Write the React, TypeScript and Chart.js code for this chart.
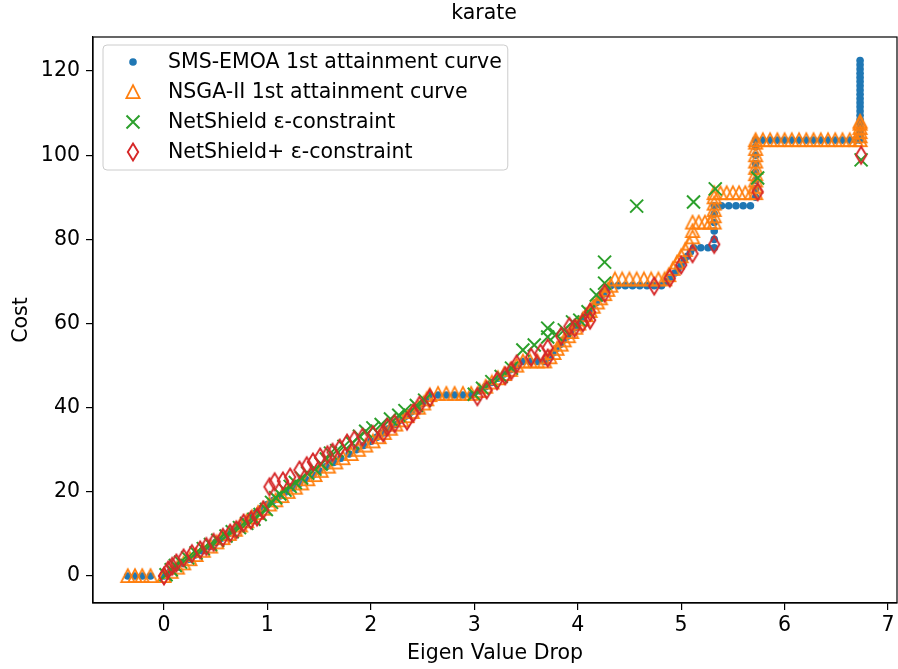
import React, { useEffect, useRef } from 'react';
import { Chart, registerables } from 'chart.js';

Chart.register(...registerables);

const FONT = "'DejaVu Sans', sans-serif";
const FS = 20.5;

const TITLE = 'karate';
const X_LABEL = 'Eigen Value Drop';
const Y_LABEL = 'Cost';
const X_TICKS = [0, 1, 2, 3, 4, 5, 6, 7];
const Y_TICKS = [0, 20, 40, 60, 80, 100, 120];
const SERIES_NAMES = [
  'SMS-EMOA 1st attainment curve',
  'NSGA-II 1st attainment curve',
  'NetShield ε-constraint',
  'NetShield+ ε-constraint',
];

const smsDrop = [
  -0.35, -0.28, -0.21, -0.13, 0.0,
  0.06, 0.12, 0.18, 0.24, 0.3, 0.37, 0.44, 0.5, 0.56, 0.62, 0.67, 0.72, 0.78, 0.83, 0.89, 0.94,
  1.0, 1.06, 1.12, 1.18, 1.25, 1.31, 1.37, 1.44, 1.5, 1.57, 1.64, 1.71, 1.79, 1.86, 1.93,
  2.0, 2.06, 2.12, 2.17, 2.23, 2.28, 2.34, 2.39, 2.45, 2.5, 2.53, 2.57,
  2.65, 2.73, 2.81, 2.89, 2.97,
  3.05, 3.11, 3.17, 3.23, 3.29, 3.35, 3.41, 3.47,
  3.54, 3.61, 3.68,
  3.72, 3.76, 3.79, 3.83, 3.86, 3.9, 3.93, 3.97, 4.0, 4.04, 4.07, 4.11, 4.14, 4.18, 4.21, 4.25, 4.28, 4.32,
  4.39, 4.46, 4.53, 4.6, 4.67, 4.74, 4.81,
  4.86, 4.9, 4.94, 4.97, 5.0, 5.03, 5.06, 5.09, 5.12,
  5.19, 5.26,
  5.32, 5.32, 5.32, 5.32, 5.32, 5.32,
  5.39, 5.46, 5.53, 5.6, 5.67,
  5.72, 5.72, 5.72, 5.72, 5.72, 5.72, 5.72, 5.72,
  5.79, 5.86, 5.93, 6.0, 6.07, 6.14, 6.21, 6.28, 6.35, 6.42, 6.49, 6.56, 6.63, 6.69,
  6.73, 6.73, 6.73, 6.73, 6.73, 6.73, 6.73, 6.73, 6.73, 6.73,
  6.73, 6.73, 6.73, 6.73, 6.73, 6.73, 6.73, 6.73, 6.73, 6.73,
];
const smsCost = [
  0, 0, 0, 0, 0,
  1, 2, 3, 4, 5, 6, 7, 8, 9, 10, 11, 12, 13, 14, 15, 16,
  17, 18, 19, 20, 21, 22, 23, 24, 25, 26, 27, 28, 29, 30, 31,
  32, 33, 34, 35, 36, 37, 38, 39, 40, 41, 42, 43,
  43, 43, 43, 43, 43,
  44, 45, 46, 47, 48, 49, 50, 51,
  51, 51, 51,
  52, 53, 54, 55, 56, 57, 58, 59, 60, 61, 62, 63, 64, 65, 66, 67, 68, 69,
  69, 69, 69, 69, 69, 69, 69,
  70, 71, 72, 73, 74, 75, 76, 77, 78,
  78, 78,
  78, 80, 82, 84, 86, 88,
  88, 88, 88, 88, 88,
  90, 92, 94, 96, 98, 100, 102, 103.6,
  103.6, 103.6, 103.6, 103.6, 103.6, 103.6, 103.6, 103.6, 103.6, 103.6, 103.6, 103.6, 103.6, 103.6,
  103.6, 104.5, 105.5, 106.5, 107.5, 108.5, 109.5, 110.5, 111.5, 112.5,
  113.5, 114.5, 115.5, 116.5, 117.5, 118.5, 119.5, 120.5, 121.5, 122.5,
];

const nsgaDrop = [
  -0.35, -0.28, -0.21, -0.13, 0.0,
  0.07, 0.13, 0.19, 0.25, 0.31, 0.38, 0.45, 0.51, 0.57, 0.63, 0.69, 0.74, 0.8, 0.85, 0.91, 0.96,
  1.02, 1.08, 1.14, 1.2, 1.27, 1.33, 1.39, 1.46, 1.52, 1.59, 1.66, 1.73, 1.81, 1.88, 1.95,
  2.02, 2.08, 2.13, 2.19, 2.24, 2.3, 2.35, 2.4, 2.46, 2.51, 2.54, 2.57,
  2.65, 2.73, 2.81, 2.89, 2.97,
  3.05, 3.11, 3.17, 3.23, 3.29, 3.35, 3.41, 3.47,
  3.54, 3.61, 3.68,
  3.73, 3.77, 3.8, 3.84, 3.87, 3.91, 3.94, 3.98, 4.01, 4.05, 4.08, 4.12, 4.15, 4.19, 4.22, 4.26, 4.29, 4.32,
  4.36, 4.43, 4.5, 4.57, 4.64, 4.71, 4.78, 4.84,
  4.88, 4.92, 4.96, 5.0, 5.04, 5.08, 5.11, 5.11, 5.11,
  5.17, 5.23, 5.28,
  5.32, 5.32, 5.32, 5.32, 5.32, 5.32,
  5.38, 5.44, 5.5, 5.56, 5.62, 5.68,
  5.72, 5.72, 5.72, 5.72, 5.72, 5.72, 5.72, 5.72, 5.72, 5.72,
  5.79, 5.86, 5.93, 6.0, 6.07, 6.14, 6.21, 6.28, 6.35, 6.42, 6.49, 6.56, 6.63, 6.69,
  6.73, 6.73, 6.73, 6.73, 6.73, 6.73,
];
const nsgaCost = [
  0, 0, 0, 0, 0,
  1, 2, 3, 4, 5, 6, 7, 8, 9, 10, 11, 12, 13, 14, 15, 16,
  17, 18, 19, 20, 21, 22, 23, 24, 25, 26, 27, 28, 29, 30, 31,
  32, 33, 34, 35, 36, 37, 38, 39, 40, 41, 42, 43,
  43.3, 43.3, 43.3, 43.3, 43.3,
  44, 45, 46, 47, 48, 49, 50, 51,
  51, 51, 51,
  52, 53, 54, 55, 56, 57, 58, 59, 60, 61, 62, 63, 64, 65, 66, 67, 68, 69,
  70.5, 70.5, 70.5, 70.5, 70.5, 70.5, 70.5, 70.5,
  71.5, 73, 74.5, 76, 77.5, 79, 80.5, 82, 84,
  84, 84, 84,
  84, 85.5, 87, 88.5, 90, 91,
  91, 91, 91, 91, 91, 91,
  91, 92.5, 94, 95.5, 97, 98.5, 100, 101.5, 103, 103.6,
  103.6, 103.6, 103.6, 103.6, 103.6, 103.6, 103.6, 103.6, 103.6, 103.6, 103.6, 103.6, 103.6, 103.6,
  103.6, 104.5, 105.5, 106.5, 107.5, 108,
];

const netDrop = [
  0.02, 0.07, 0.11, 0.16, 0.23, 0.31, 0.38, 0.45, 0.52, 0.6, 0.66, 0.73, 0.8, 0.87, 0.93, 0.99,
  1.04, 1.08, 1.12, 1.17, 1.22, 1.27, 1.33, 1.39, 1.46, 1.52, 1.57, 1.61, 1.67, 1.74, 1.82, 1.89, 1.95,
  2.02, 2.1, 2.19, 2.27, 2.33, 2.44, 2.52,
  3.0, 3.08, 3.17, 3.26, 3.36, 3.47, 3.58, 3.71, 3.71, 3.79, 3.87, 3.95,
  4.02, 4.1, 4.18, 4.26, 4.26, 4.57, 5.12, 5.33, 5.74, 6.74,
];
const netCost = [
  0.3, 1.5, 2.5, 3.3, 4.3, 5.5, 6.5, 7.5, 8.5, 9.5, 10.5, 11.5, 12.5, 13.5, 14.6, 15.8,
  17.5, 18.6, 19.5, 20.4, 21.3, 22.2, 23.3, 24.4, 25.4, 26.6, 27.8, 29.2, 29.8, 30.8, 31.6, 33.2, 34.4,
  35.2, 36, 37.3, 38.2, 39.3, 40.5, 41.8,
  43.2, 44.6, 46.2, 47.4, 49.4, 53.7, 54.9, 56.8, 58.9, 57.4, 58.5, 60.4,
  60.8, 62.8, 66.8, 69.6, 74.6, 87.9, 88.9, 92, 94.6, 98.9,
];

const netPlusDrop = [
  0.0, 0.04, 0.08, 0.12, 0.19, 0.27, 0.35, 0.41, 0.48, 0.57, 0.64, 0.7, 0.77, 0.84, 0.9, 0.96,
  1.02, 1.07, 1.15, 1.22, 1.31, 1.38, 1.44, 1.51, 1.58, 1.63, 1.7, 1.77, 1.84, 1.92,
  2.02, 2.12, 2.16, 2.23, 2.35, 2.41, 2.47, 2.57,
  3.03, 3.12, 3.22, 3.3, 3.36, 3.41, 3.55, 3.64, 3.71, 3.71, 3.84, 3.92, 3.97,
  4.05, 4.12, 4.12, 4.26, 4.74, 4.89, 5.0, 5.11, 5.32, 5.74, 6.74,
];
const netPlusCost = [
  0, 1.4, 2.3, 3.1, 4.3, 5.3, 6.2, 7, 8, 9.2, 10.2, 11, 12.6, 13.3, 14, 15.7,
  21.2, 22.4, 22.6, 23.5, 25.2, 26.2, 27.1, 28.3, 28.8, 29.4, 30.4, 31.6, 32.4, 33,
  33.6, 34, 35.4, 36.2, 36.8, 38.7, 40.6, 42.3,
  42.6, 44.2, 46.4, 47.6, 48.8, 50.4, 52, 53, 51.8, 54.2, 57, 59.3, 58.9,
  60.2, 60.8, 62.7, 67.2, 68.9, 70.8, 73.9, 76.6, 78.8, 91.3, 100,
];

const BLUE = '#1f77b4';
const ORANGE = '#ff7f0e';
const GREEN = '#2ca02c';
const RED = '#d62728';

function zip(xs: number[], ys: number[]) {
  return xs.map((x, i) => ({ x, y: ys[i] }));
}

function makeTriangle(): HTMLCanvasElement {
  const c = document.createElement('canvas');
  c.width = 18;
  c.height = 18;
  const g = c.getContext('2d')!;
  g.strokeStyle = ORANGE;
  g.lineWidth = 1.8;
  g.lineJoin = 'miter';
  g.beginPath();
  g.moveTo(9, 2.2);
  g.lineTo(15.6, 15.2);
  g.lineTo(2.4, 15.2);
  g.closePath();
  g.stroke();
  return c;
}

function makeDiamond(): HTMLCanvasElement {
  const c = document.createElement('canvas');
  c.width = 16;
  c.height = 22;
  const g = c.getContext('2d')!;
  g.strokeStyle = RED;
  g.lineWidth = 1.9;
  g.lineJoin = 'miter';
  g.beginPath();
  g.moveTo(8, 2.5);
  g.lineTo(13.2, 11);
  g.lineTo(8, 19.5);
  g.lineTo(2.8, 11);
  g.closePath();
  g.stroke();
  return c;
}

export default function App() {
  const ref = useRef<HTMLCanvasElement | null>(null);

  useEffect(() => {
    document.body.style.margin = '0';
    const canvas = ref.current!;
    const tri = makeTriangle();
    const dia = makeDiamond();
    const font = { family: FONT, size: FS, weight: 'normal' as const };

    const framePlugin = {
      id: 'frame',
      afterDatasetsDraw(chart: any) {
        const { ctx, chartArea: a } = chart;
        ctx.save();
        ctx.strokeStyle = '#000';
        ctx.lineWidth = 1.2;
        ctx.strokeRect(a.left, a.top, a.right - a.left, a.bottom - a.top);
        ctx.restore();
      },
    };

    const titlePlugin = {
      id: 'mplTitle',
      afterDraw(chart: any) {
        const { ctx } = chart;
        ctx.save();
        ctx.font = `${FS}px ${FONT}`;
        ctx.fillStyle = '#000';
        ctx.textAlign = 'center';
        ctx.textBaseline = 'middle';
        ctx.fillText(TITLE, 484, 14);
        ctx.restore();
      },
    };

    const legendPlugin = {
      id: 'innerLegend',
      afterDraw(chart: any) {
        const { ctx, chartArea: a } = chart;
        ctx.save();
        ctx.font = `${FS}px ${FONT}`;
        const maxW = Math.max(...SERIES_NAMES.map((s) => ctx.measureText(s).width));
        const x0 = a.left + 10;
        const y0 = a.top + 8;
        const textX = x0 + 65;
        const w = textX - x0 + maxW + 6;
        const rowH = 30;
        const h = rowH * SERIES_NAMES.length + 5;
        const r = 4;
        ctx.beginPath();
        ctx.moveTo(x0 + r, y0);
        ctx.lineTo(x0 + w - r, y0);
        ctx.arcTo(x0 + w, y0, x0 + w, y0 + r, r);
        ctx.lineTo(x0 + w, y0 + h - r);
        ctx.arcTo(x0 + w, y0 + h, x0 + w - r, y0 + h, r);
        ctx.lineTo(x0 + r, y0 + h);
        ctx.arcTo(x0, y0 + h, x0, y0 + h - r, r);
        ctx.lineTo(x0, y0 + r);
        ctx.arcTo(x0, y0, x0 + r, y0, r);
        ctx.closePath();
        ctx.fillStyle = 'rgba(255,255,255,0.8)';
        ctx.fill();
        ctx.strokeStyle = '#cccccc';
        ctx.lineWidth = 1;
        ctx.stroke();

        const mx = x0 + 30;
        SERIES_NAMES.forEach((name, i) => {
          const cy = y0 + 17 + i * rowH;
          if (i === 0) {
            ctx.beginPath();
            ctx.arc(mx, cy, 3.8, 0, Math.PI * 2);
            ctx.fillStyle = BLUE;
            ctx.fill();
          } else if (i === 1) {
            ctx.drawImage(tri, mx - 9, cy - 9);
          } else if (i === 2) {
            ctx.beginPath();
            ctx.strokeStyle = GREEN;
            ctx.lineWidth = 2;
            ctx.moveTo(mx - 6.5, cy - 6.5);
            ctx.lineTo(mx + 6.5, cy + 6.5);
            ctx.moveTo(mx + 6.5, cy - 6.5);
            ctx.lineTo(mx - 6.5, cy + 6.5);
            ctx.stroke();
          } else {
            ctx.drawImage(dia, mx - 8, cy - 11);
          }
          ctx.fillStyle = '#000';
          ctx.textAlign = 'left';
          ctx.textBaseline = 'middle';
          ctx.fillText(name, textX, cy + 1);
        });
        ctx.restore();
      },
    };

    const chart = new Chart(canvas, {
      type: 'scatter',
      data: {
        datasets: [
          {
            label: SERIES_NAMES[0],
            data: zip(smsDrop, smsCost),
            pointStyle: 'circle',
            pointRadius: 3.8,
            backgroundColor: BLUE,
            borderWidth: 0,
            order: 4,
          },
          {
            label: SERIES_NAMES[1],
            data: zip(nsgaDrop, nsgaCost),
            pointStyle: tri as any,
            pointRadius: 7,
            backgroundColor: ORANGE,
            borderColor: ORANGE,
            order: 3,
          },
          {
            label: SERIES_NAMES[2],
            data: zip(netDrop, netCost),
            pointStyle: 'crossRot',
            pointRadius: 9.2,
            borderColor: GREEN,
            backgroundColor: GREEN,
            borderWidth: 2,
            order: 2,
          },
          {
            label: SERIES_NAMES[3],
            data: zip(netPlusDrop, netPlusCost),
            pointStyle: dia as any,
            pointRadius: 8,
            backgroundColor: RED,
            borderColor: RED,
            order: 1,
          },
        ],
      },
      options: {
        responsive: false,
        animation: false,
        devicePixelRatio: 1,
        events: [],
        layout: { autoPadding: false, padding: { left: 0, right: 1, top: 37, bottom: 0 } },
        plugins: {
          legend: { display: false },
          tooltip: { enabled: false },
          title: { display: false },
        },
        scales: {
          x: {
            type: 'linear',
            min: -0.686,
            max: 7.087,
            afterBuildTicks: (s: any) => {
              s.ticks = X_TICKS.map((v) => ({ value: v }));
            },
            afterFit: (s: any) => {
              s.height = 66;
              s.paddingLeft = 0;
              s.paddingRight = 0;
            },
            ticks: { color: '#000', font, padding: 3 },
            grid: { drawOnChartArea: false, color: '#000', tickColor: '#000', tickLength: 7, lineWidth: 1.2 },
            border: { color: '#000', width: 1.2 },
            title: { display: true, text: X_LABEL, color: '#000', font, padding: { top: 0, bottom: 2.7 } },
          },
          y: {
            type: 'linear',
            min: -6.42,
            max: 128.1,
            afterBuildTicks: (s: any) => {
              s.ticks = Y_TICKS.map((v) => ({ value: v }));
            },
            afterFit: (s: any) => {
              s.width = 93;
              s.paddingTop = 0;
              s.paddingBottom = 0;
            },
            ticks: { color: '#000', font, padding: 6 },
            grid: { drawOnChartArea: false, color: '#000', tickColor: '#000', tickLength: 7, lineWidth: 1.2 },
            border: { color: '#000', width: 1.2 },
            title: { display: true, text: Y_LABEL, color: '#000', font, padding: { top: 9.5, bottom: 0 } },
          },
        },
      },
      plugins: [framePlugin, legendPlugin, titlePlugin],
    });

    return () => chart.destroy();
  }, []);

  return (
    <div style={{ width: 898, height: 669 }}>
      <canvas ref={ref} width={898} height={669} style={{ width: 898, height: 669, display: 'block' }} />
    </div>
  );
}
